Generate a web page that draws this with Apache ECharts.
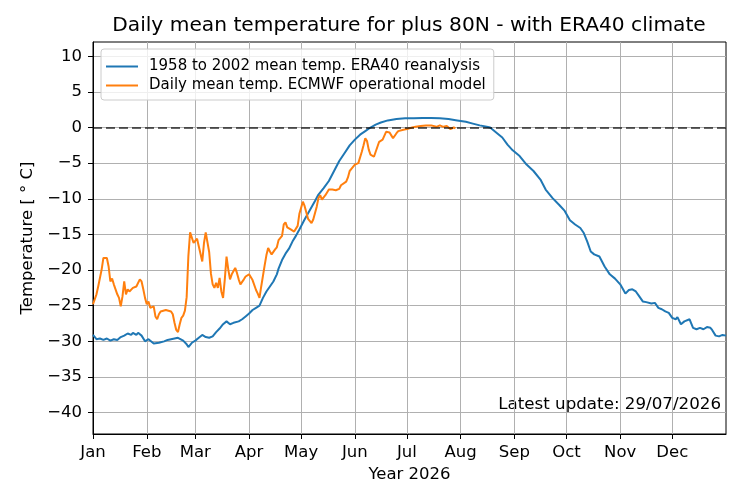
<!DOCTYPE html>
<html>
<head>
<meta charset="UTF-8">
<title>Daily mean temperature for plus 80N</title>
<style type="text/css">
	html, body { margin: 0; padding: 0; background: #fff; }
	#chart { width: 744px; height: 504px; }
</style>
<script src="https://cdn.jsdelivr.net/npm/echarts@6/dist/echarts.min.js"></script>
</head>
<body>
<div id="chart"></div>
<script>
// month starts (day of year, 0 = 1 Jan) and their labels
var monthStarts = [0, 31, 59, 90, 120, 151, 181, 212, 243, 273, 304, 334];
var monthNames = ['Jan', 'Feb', 'Mar', 'Apr', 'May', 'Jun', 'Jul', 'Aug', 'Sep', 'Oct', 'Nov', 'Dec'];
var tempTicks = [-40, -35, -30, -25, -20, -15, -10, -5, 0, 5, 10];

// 1958-2002 ERA40 climate mean
var climDays = [0, 2, 4, 6, 8, 10, 12, 14, 16, 18, 20, 22, 23, 25, 26, 28, 30, 32, 33, 35, 36, 38, 39, 41, 43, 45, 47, 49, 50, 52,
	54, 55, 57, 59, 61, 63, 65, 67, 69, 71, 73, 75, 77, 78, 79, 81, 82, 84, 86, 88, 90, 92, 94, 96, 98, 100, 102, 104, 106, 107,
	109, 111, 113, 115, 117, 119, 122, 125, 128, 130, 133, 136, 139, 142, 145, 148, 151, 154, 157, 160, 163, 166, 170, 175, 180,
	185, 190, 195, 200, 205, 210, 215, 219, 223, 227, 229, 233, 236, 239, 242, 246, 250, 254, 258, 261, 265, 269, 272, 275, 278,
	281, 283, 285, 287, 289, 292, 295, 298, 301, 304, 307, 309, 311, 313, 315, 317, 319, 322, 324, 326, 328, 330, 332, 334, 336,
	337, 339, 341, 344, 346, 348, 350, 352, 354, 356, 357, 359, 361, 363, 365];
var climTemps = [-29.1, -29.7, -29.6, -29.8, -29.6, -29.9, -29.7, -29.8, -29.4, -29.2, -28.9, -29.1, -28.8, -29.1, -28.8, -29.2, -30.0, -29.7, -29.8, -30.3,
	-30.5, -30.2, -30.3, -30.0, -29.8, -29.7, -29.6, -29.5, -29.5, -29.9, -30.4, -30.8, -30.2, -29.9, -29.5, -29.1, -29.4, -29.5, -29.3, -28.7,
	-28.2, -27.6, -27.2, -27.0, -27.6, -27.4, -27.5, -27.2, -26.9, -26.5, -26.1, -25.6, -25.3, -25.0, -23.9, -23.0, -22.3, -21.6, -20.6, -19.8,
	-18.6, -17.7, -17.0, -16.0, -15.2, -14.3, -12.9, -11.6, -10.3, -9.4, -8.5, -7.5, -6.1, -4.7, -3.6, -2.5, -1.7, -1.0, -0.5, 0.0,
	0.4, 0.7, 1.0, 1.2, 1.3, 1.3, 1.35, 1.35, 1.3, 1.2, 1.0, 0.8, 0.55, 0.3, 0.1, 0.0, -0.8, -1.4, -2.4, -3.2,
	-4.0, -5.2, -6.1, -7.3, -8.7, -9.9, -10.9, -11.7, -13.0, -13.6, -14.1, -14.8, -16.0, -17.4, -17.8, -18.1, -19.5, -20.6, -21.2, -22.0,
	-23.3, -22.8, -22.7, -23.0, -23.7, -24.4, -24.5, -24.7, -24.6, -25.3, -25.5, -25.8, -26.0, -26.7, -26.9, -26.6, -27.6, -27.2, -26.9, -28.1,
	-28.3, -28.1, -28.3, -28.0, -28.1, -28.4, -29.2, -29.3, -29.1, -29.2];

// ECMWF operational daily mean, this year
var opDays = [0, 2, 3, 5, 6, 8, 9, 10, 11, 12, 13, 14, 15, 16, 17, 18, 19, 20, 21, 23, 24, 25, 27, 28, 29, 30, 31, 32, 33, 35,
	36, 37, 38, 39, 40, 42, 43, 45, 46, 47, 48, 49, 50, 51, 52, 53, 54, 55, 56, 58, 60, 61, 63, 64, 65, 67, 68, 69, 70, 71,
	72, 73, 74, 75, 76, 77, 78, 79, 80, 81, 82, 83, 84, 85, 87, 88, 90, 91, 92, 94, 95, 96, 97, 99, 100, 101, 102, 103, 105, 106,
	107, 109, 110, 111, 112, 114, 116, 118, 119, 121, 122, 124, 126, 127, 129, 130, 131, 132, 133, 134, 136, 138, 140, 142, 143, 144,
	146, 147, 148, 149, 151, 153, 155, 156, 157, 158, 159, 160, 162, 163, 165, 166, 167, 169, 170, 171, 172, 173, 175, 176, 177, 179,
	181, 184, 186, 189, 192, 195, 198, 200, 202, 204, 206, 208, 209];
var opTemps = [-24.8, -23.4, -22.3, -19.9, -18.3, -18.3, -19.5, -21.6, -21.2, -22.0, -22.7, -23.4, -23.9, -25.1, -23.7, -21.6, -23.4, -22.7, -23.0, -22.5,
	-22.5, -22.3, -21.3, -21.6, -22.7, -23.9, -24.8, -24.4, -25.3, -25.1, -26.5, -26.9, -26.2, -25.8, -25.8, -25.6, -25.8, -25.8, -26.2, -27.4,
	-28.4, -28.7, -27.6, -26.7, -26.4, -25.7, -23.8, -18.0, -14.7, -16.2, -15.6, -15.7, -18.8, -16.2, -14.7, -17.5, -20.5, -22.0, -22.5, -21.8,
	-22.5, -21.1, -23.0, -23.9, -21.3, -18.1, -19.9, -21.3, -20.6, -20.4, -19.7, -20.4, -21.3, -22.0, -21.3, -20.9, -20.6, -20.6, -21.4, -22.8,
	-23.3, -23.9, -22.3, -19.3, -17.9, -16.9, -17.4, -17.8, -17.1, -16.8, -15.8, -15.2, -13.6, -13.3, -14.0, -14.3, -14.6, -13.8, -12.1, -10.4,
	-11.0, -12.8, -13.4, -12.9, -11.1, -9.9, -9.5, -10.1, -9.8, -9.5, -8.7, -8.7, -8.8, -8.6, -8.1, -7.9, -7.6, -7.0, -6.1, -5.8,
	-5.2, -5.0, -3.4, -2.5, -1.5, -1.9, -3.1, -3.8, -4.1, -3.4, -2.0, -1.9, -1.7, -0.6, -0.5, -0.7, -1.1, -1.5, -0.8, -0.5,
	-0.5, -0.3, -0.2, 0.0, 0.1, 0.2, 0.3, 0.3, 0.1, 0.3, 0.1, 0.2, -0.2, 0.0, -0.1];

var latestUpdate = '29/07/2026';

function pairs(xs, ys) {
	var out = [];
	for (var i = 0; i < xs.length; i++) out.push([xs[i], ys[i]]);
	return out;
}

var font = 'DejaVu Sans';
var chart = echarts.init(document.getElementById('chart'), null, { renderer: 'canvas' });

var option = {
	animation: false,
	backgroundColor: '#fff',
	textStyle: { fontFamily: font },
	title: {
		text: 'Daily mean temperature for plus 80N - with ERA40 climate',
		left: 404,
		top: 11,
		textAlign: 'center',
		textStyle: { fontFamily: font, fontSize: 20.2, fontWeight: 'normal', color: '#000' }
	},
	legend: {
		orient: 'vertical',
		left: 101,
		top: 49,
		padding: [9, 8, 6, 5],
		itemGap: 2,
		itemWidth: 32,
		itemHeight: 2,
		icon: 'rect',
		backgroundColor: 'rgba(255,255,255,0.8)',
		borderColor: '#cccccc',
		borderWidth: 1,
		borderRadius: 3,
		textStyle: { fontFamily: font, fontSize: 15, color: '#000', lineHeight: 17, padding: [0, 0, 0, 6] },
		data: ['1958 to 2002 mean temp. ERA40 reanalysis', 'Daily mean temp. ECMWF operational model']
	},
	grid: {
		left: 93, right: 18, top: 42, bottom: 70,
		show: true, borderColor: '#000', borderWidth: 1
	},
	xAxis: {
		type: 'value',
		min: 0,
		max: 365,
		name: 'Year 2026',
		nameLocation: 'middle',
		nameGap: 32,
		nameTextStyle: { fontFamily: font, fontSize: 16.5, color: '#000' },
		axisLine: { show: true, onZero: false, lineStyle: { color: '#000', width: 1 } },
		axisTick: { show: true, length: 5, customValues: monthStarts, lineStyle: { color: '#000' } },
		axisLabel: {
			customValues: monthStarts,
			margin: 10,
			fontFamily: font, fontSize: 16.5, color: '#000',
			formatter: function (v) { return monthNames[monthStarts.indexOf(v)] || ''; }
		},
		splitLine: { show: true, lineStyle: { color: '#b0b0b0', width: 1 } }
	},
	yAxis: {
		type: 'value',
		min: -43,
		max: 12,
		name: 'Temperature [ \u00b0 C]',
		nameLocation: 'middle',
		nameGap: 56,
		nameTextStyle: { fontFamily: font, fontSize: 16.5, color: '#000' },
		axisLine: { show: true, onZero: false, lineStyle: { color: '#000', width: 1 } },
		axisTick: { show: true, length: 5, customValues: tempTicks, lineStyle: { color: '#000' } },
		axisLabel: {
			customValues: tempTicks,
			margin: 11,
			fontFamily: font, fontSize: 16.5, color: '#000',
			formatter: function (v) { return String(v).replace('-', '\u2212'); }
		},
		splitLine: { show: true, lineStyle: { color: '#b0b0b0', width: 1 } }
	},
	graphic: [{
		type: 'text',
		right: 23,
		top: 396,
		style: {
			text: 'Latest update: ' + latestUpdate,
			font: '16.7px "DejaVu Sans"',
			fill: '#000'
		}
	}],
	series: [{
		name: '1958 to 2002 mean temp. ERA40 reanalysis',
		type: 'line',
		data: pairs(climDays, climTemps),
		showSymbol: false,
		color: '#1f77b4',
		lineStyle: { width: 2 },
		z: 2
	}, {
		name: 'Daily mean temp. ECMWF operational model',
		type: 'line',
		data: pairs(opDays, opTemps),
		showSymbol: false,
		color: '#ff7f0e',
		lineStyle: { width: 2 },
		z: 3,
		markLine: {
			silent: true,
			symbol: 'none',
			label: { show: false },
			lineStyle: { color: '#000', opacity: 0.6, type: [9, 4], width: 2 },
			data: [{ yAxis: 0 }]
		}
	}]
};

chart.setOption(option);
</script>
</body>
</html>
